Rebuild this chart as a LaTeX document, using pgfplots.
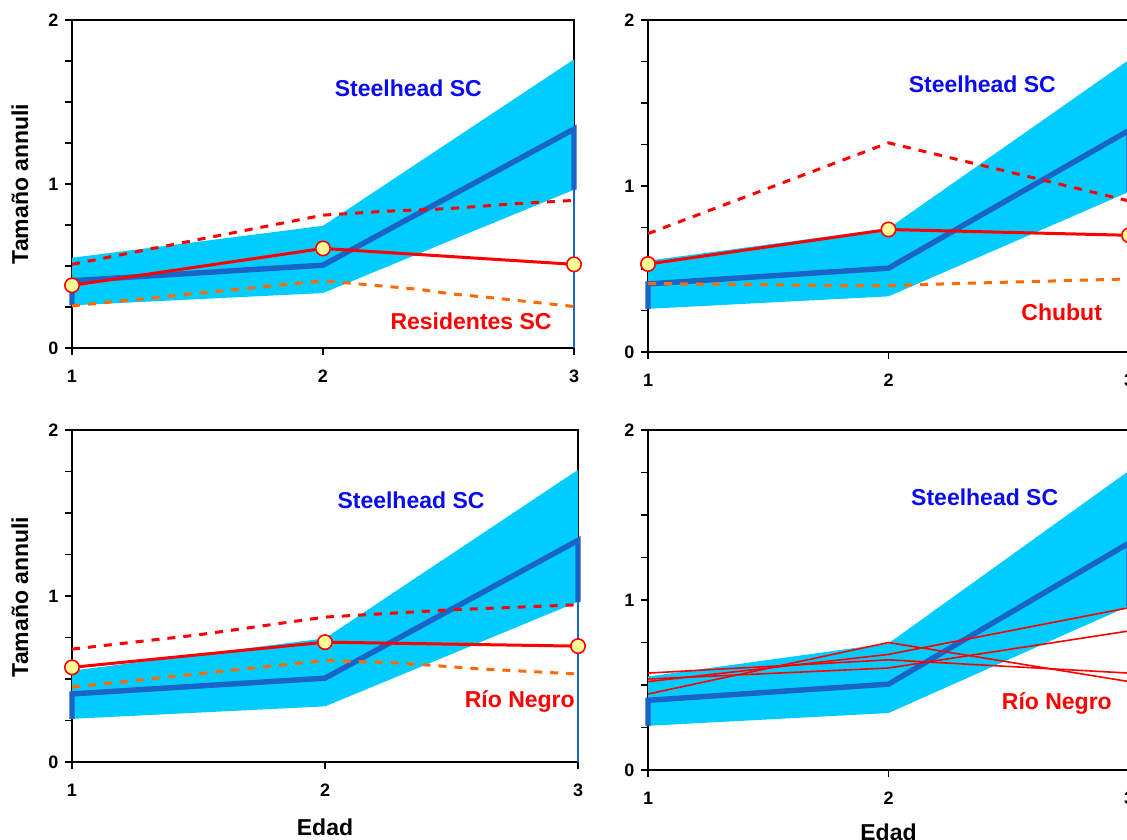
\documentclass[border=0pt]{standalone}
\usepackage{pgfplots}
\pgfplotsset{compat=1.18}
\usepackage{fontspec}
\setmainfont{Liberation Sans}

\definecolor{band}{HTML}{00CCFF}
\definecolor{meanblue}{HTML}{1A64C8}
\definecolor{txtblue}{HTML}{0A0AF0}
\definecolor{redl}{HTML}{FF0000}
\definecolor{orangel}{HTML}{FF6A00}
\definecolor{mfill}{HTML}{FFFF99}

\tikzset{lab/.style={font=\bfseries\fontsize{11.5}{11.5}\selectfont}}

\pgfplotsset{
  panel/.style={
    scale only axis,
    xmin=1, xmax=3, ymin=0, ymax=2,
    axis line style={black, line width=0.6pt},
    xtick={1,2,3}, ytick={0,1,2},
    minor ytick={0.25,0.5,0.75,1.25,1.5,1.75},
    xtick pos=bottom, ytick pos=left,
    tick align=outside,
    major tick length=3.3pt, minor tick length=3.3pt,
    tick style={black, line width=0.6pt},
    /pgf/number format/assume math mode=true,
    ticklabel style={font=\bfseries\fontsize{9}{9}\selectfont},
    xticklabel style={yshift=-4pt},
    clip=false,
    anchor=south west,
  },
  meanline/.style={meanblue, line width=2.7pt},
  upper/.style={redl, line width=1.5pt, dash pattern=on 4pt off 4pt},
  lower/.style={orangel, line width=1.5pt, dash pattern=on 4pt off 4pt},
  obs/.style={redl, line width=1.5pt, mark=*, mark size=3.6pt,
    mark options={solid, fill=mfill, draw=redl, line width=0.8pt}},
  ylab/.style={ylabel={Tamaño annuli}},
}

% Steelhead SC band and mean (same in every panel)
\newcommand{\steelhead}{%
  \addplot[fill=band, draw=none] coordinates {
    (1,0.26) (2,0.335) (3,0.965) (3,1.76) (2,0.745) (1,0.55)} -- cycle;
  \addplot[meanline] coordinates {(1,0.26) (1,0.41) (2,0.505) (3,1.335) (3,0.965)};
  \addplot[meanblue, line width=0.8pt] coordinates {(3,0) (3,0.965)};
}

\begin{document}
\begin{tikzpicture}

% top left: Residentes SC
\begin{axis}[panel, at={(36pt,245.5pt)}, width=251pt, height=164pt, ylab,
  every axis y label/.style={at={(axis description cs:-0.104,0.5)}, rotate=90, anchor=center,
    font=\bfseries\fontsize{11.5}{11.5}\selectfont}]
\steelhead
\addplot[lower] coordinates {(1,0.257) (2,0.41) (2.38,0.358) (2.51,0.33) (2.65,0.31) (2.79,0.287) (3,0.253)};
\addplot[upper] coordinates {(1,0.51) (2,0.81) (2.24,0.833) (2.5,0.85) (2.77,0.88) (3,0.90)};
\addplot[obs] coordinates {(1,0.382) (2,0.607) (3,0.51)};
\node[lab, txtblue] at (axis cs:2.34,1.585) {Steelhead SC};
\node[lab, redl] at (axis cs:2.59,0.165) {Residentes SC};
\end{axis}

% top right: Chubut
\begin{axis}[panel, at={(324pt,243.5pt)}, width=240.5pt, height=166pt]
\steelhead
\addplot[lower] coordinates {(1,0.413) (1.8,0.40) (2,0.40) (2.3,0.413) (3,0.44)};
\addplot[upper] coordinates {(1,0.713) (2,1.26) (3,0.91)};
\addplot[obs] coordinates {(1,0.53) (2,0.738) (3,0.703)};
\node[lab, txtblue] at (axis cs:2.39,1.61) {Steelhead SC};
\node[lab, redl] at (axis cs:2.72,0.24) {Chubut};
\end{axis}

% bottom left: Rio Negro
\begin{axis}[panel, at={(36pt,38.5pt)}, width=253pt, height=166pt, ylab,
  every axis y label/.style={at={(axis description cs:-0.103,0.497)}, rotate=90, anchor=center,
    font=\bfseries\fontsize{11.5}{11.5}\selectfont},
  xlabel={Edad},
  every axis x label/.style={at={(axis description cs:0.5,-0.196)}, anchor=center,
    font=\bfseries\fontsize{11.5}{11.5}\selectfont}]
\steelhead
\addplot[lower] coordinates {(1,0.451) (2,0.612) (2.3,0.596) (2.6,0.562) (3,0.53)};
\addplot[upper] coordinates {(1,0.68) (1.5,0.766) (2,0.873) (2.5,0.917) (3,0.947)};
\addplot[obs] coordinates {(1,0.57) (2,0.722) (3,0.698)};
\node[lab, txtblue] at (axis cs:2.34,1.578) {Steelhead SC};
\node[lab, redl] at (axis cs:2.77,0.367) {Río Negro};
\end{axis}

% bottom right: Rio Negro individual fish
\begin{axis}[panel, at={(324pt,34.5pt)}, width=240.5pt, height=170pt,
  xlabel={Edad},
  every axis x label/.style={at={(axis description cs:0.5,-0.182)}, anchor=center,
    font=\bfseries\fontsize{11.5}{11.5}\selectfont}]
\steelhead
\addplot[redl, line width=0.8pt] coordinates {(1,0.447) (2,0.75) (3,0.52)};
\addplot[redl, line width=0.8pt] coordinates {(1,0.57) (2,0.648) (3,0.57)};
\addplot[redl, line width=0.8pt] coordinates {(1,0.52) (2,0.68) (3,0.955)};
\addplot[redl, line width=0.8pt] coordinates {(1,0.535) (2,0.60) (3,0.818)};
\node[lab, txtblue] at (axis cs:2.40,1.606) {Steelhead SC};
\node[lab, redl] at (axis cs:2.70,0.394) {Río Negro};
\end{axis}

\pgfresetboundingbox
\useasboundingbox (0,0) rectangle (563.5pt,419.5pt);
\end{tikzpicture}
\end{document}
